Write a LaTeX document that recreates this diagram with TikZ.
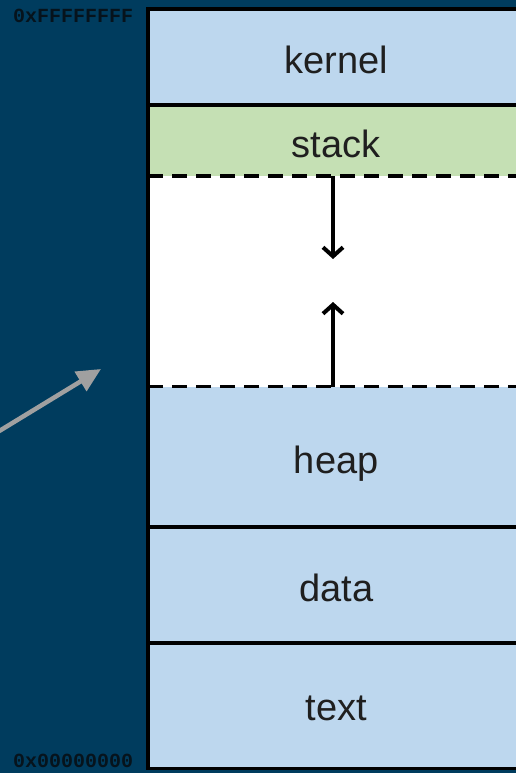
\documentclass[tikz,border=0pt]{standalone}
\usepackage{fontspec}
\setmainfont{Liberation Sans}
\newfontfamily\addrfont{Liberation Mono}
\usetikzlibrary{arrows.meta}
\definecolor{darkbg}{RGB}{0,60,94}
\definecolor{segblue}{HTML}{BDD7EE}
\definecolor{seggreen}{HTML}{C5E0B4}
\definecolor{addrcol}{HTML}{06131C}
\definecolor{greyarrow}{HTML}{A0A0A0}
\tikzset{
  seg/.style={rectangle, anchor=north west, inner sep=0pt, minimum width=376pt, fill=#1},
  lbl/.style={font=\fontsize{38}{44}\selectfont, text=black!88, yshift=-3pt},
  addr/.style={font=\addrfont\bfseries\fontsize{20}{24}\selectfont, text=addrcol, anchor=base west, inner sep=0pt},
  solidline/.style={draw=black, line width=3.8pt},
  dashline/.style={draw=black, line width=3.8pt, dash pattern=on 15pt off 9pt},
  growarrow/.style={draw=black, line width=4pt, -{Straight Barb[length=9pt,width=20pt]}},
  pointer/.style={draw=greyarrow, line width=4.5pt, -{Triangle[length=24pt,width=22pt]}}
}
\begin{document}
\begin{tikzpicture}[x=1pt,y=-1pt]
\fill[darkbg] (0,0) rectangle (516,773);
\useasboundingbox (0,0) rectangle (516,773);
\clip (0,0) rectangle (516,773);
% segments
\node[seg=segblue, minimum height=96pt] (kernel) at (148,9) {};
\node[seg=seggreen, minimum height=71pt] (stack) at (148,105) {};
\node[seg=white, minimum height=210.5pt] (free) at (148,176) {};
\node[seg=segblue, minimum height=140.5pt] (heap) at (148,386.5) {};
\node[seg=segblue, minimum height=116pt] (data) at (148,527) {};
\node[seg=segblue, minimum height=125pt] (text) at (148,643) {};
% labels
\node[lbl] at (kernel.center) {kernel};
\node[lbl] at (stack.center) {stack};
\node[lbl, yshift=-4pt] at (heap.center) {heap};
\node[lbl] at (data.center) {data};
\node[lbl] at (text.center) {text};
% boundaries
\draw[solidline] (kernel.north west) -- (kernel.north east);
\draw[solidline] (stack.north west) -- (stack.north east);
\draw[dashline] (free.north west) -- (free.north east);
\draw[dashline] (heap.north west) -- (heap.north east);
\draw[solidline] (data.north west) -- (data.north east);
\draw[solidline] (text.north west) -- (text.north east);
\draw[solidline] (text.south west) -- (text.south east);
\draw[solidline] ([yshift=1.9pt]kernel.north west) -- ([yshift=-1.9pt]text.south west);
% growth arrows
\coordinate (stackend) at (333,259);
\coordinate (heapend) at (333,302);
\draw[growarrow] (333,176) -- (stackend);
\draw[growarrow] (333,386.5) -- (heapend);
% pointer
\coordinate (ptrfrom) at (-4,433);
\coordinate (ptrto) at (101,369);
\draw[pointer] (ptrfrom) -- (ptrto);
% addresses
\node[addr] (hi) at (13,23) {0xFFFFFFFF};
\node[addr] (lo) at (13,767) {0x00000000};
\end{tikzpicture}
\end{document}
